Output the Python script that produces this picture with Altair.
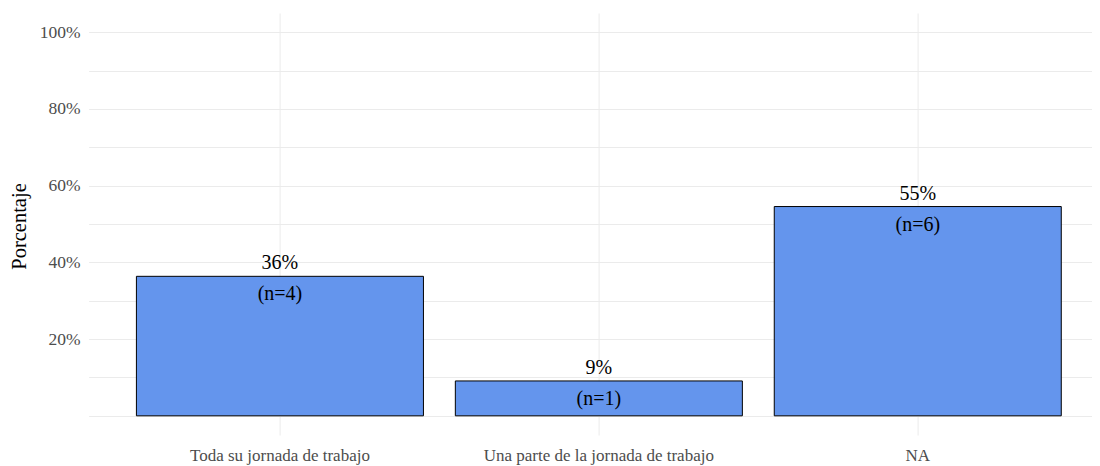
import altair as alt
import pandas as pd

categories = ["Toda su jornada de trabajo", "Una parte de la jornada de trabajo", "NA"]
counts = [4, 1, 6]
shares = [0.3636, 0.0909, 0.5455]
pct_labels = ["36%", "9%", "55%"]
n_labels = ["(n=4)", "(n=1)", "(n=6)"]
y_grid_values = [0.0, 0.1, 0.2, 0.3, 0.4, 0.5, 0.6, 0.7, 0.8, 0.9, 1.0]

df = pd.DataFrame({
    "cat": categories,
    "n": counts,
    "share": shares,
    "pct": pct_labels,
    "nlab": n_labels,
})

FONT = "Liberation Serif"

x = alt.X(
    "cat:N",
    sort=categories,
    title=None,
    scale=alt.Scale(paddingInner=0.1, paddingOuter=0.1225, align=0.612),
    axis=alt.Axis(
        labelFont=FONT, labelFontSize=17, labelColor="#4D4D4D", labelAngle=0,
        labelPadding=26, labelBaseline="alphabetic", ticks=False, domain=False,
        grid=True, gridColor="#EBEBEB", gridWidth=1, bandPosition=0.5, labelLimit=500,
    ),
)
y = alt.Y(
    "share:Q",
    scale=alt.Scale(domain=[-0.05, 1.05], nice=False, zero=False),
    axis=alt.Axis(
        values=y_grid_values,
        labelExpr="(datum.value > 0.1 && round(datum.value*100) % 20 == 0) ? format(datum.value, '.0%') : ''",
        labelFont=FONT, labelFontSize=17.5, labelColor="#4D4D4D", labelPadding=8.5,
        labelFlush=False, labelOverlap=False,
        ticks=False, domain=False, grid=True, gridColor="#EBEBEB", gridWidth=1,
        title="Porcentaje", titleFont=FONT, titleFontSize=20.5, titleFontWeight="normal",
        titleColor="black", titleX=-68.6, titleY=213, titleAngle=-90,
        titleAlign="center", titleBaseline="middle",
    ),
)

bars = alt.Chart(df).mark_bar(color="#6495ED", stroke="black", strokeWidth=1).encode(
    x=x, y=y, y2=alt.datum(0)
)
pct_text = alt.Chart(df).mark_text(
    baseline="middle", dy=-13, fontSize=20, font=FONT, color="black"
).encode(x=alt.X("cat:N", sort=categories), y="share:Q", text="pct:N")
n_text = alt.Chart(df).mark_text(
    baseline="middle", dy=18, fontSize=20, font=FONT, color="black"
).encode(x=alt.X("cat:N", sort=categories), y="share:Q", text="nlab:N")

chart = (
    alt.layer(bars, pct_text, n_text)
    .properties(
        width=1003, height=422,
        autosize=alt.AutoSizeParams(type="none"),
        padding={"left": 80.6, "top": 5, "right": 0, "bottom": 31},
        background="white",
    )
    .configure_view(stroke=None)
)

chart.save("out.html", embed_options={"renderer": "svg", "actions": False})
